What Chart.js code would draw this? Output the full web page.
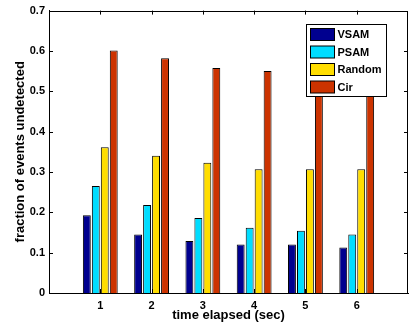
<!DOCTYPE html>
<html>
<head>
<meta charset="utf-8">
<script src="https://cdn.jsdelivr.net/npm/chart.js@4.4.0/dist/chart.umd.min.js"></script>
<style>
html,body{margin:0;padding:0;background:#fff;}
#wrap{width:417px;height:327px;position:relative;}
</style>
</head>
<body>
<div id="wrap"><canvas id="c" width="417" height="327"></canvas></div>
<script>
const categories = ['1', '2', '3', '4', '5', '6'];
const seriesNames = ['VSAM', 'PSAM', 'Random', 'Cir'];
const vsam   = [0.193, 0.145, 0.129, 0.120, 0.120, 0.113];
const psam   = [0.265, 0.218, 0.186, 0.162, 0.154, 0.145];
const random = [0.361, 0.340, 0.323, 0.307, 0.307, 0.307];
const cir    = [0.601, 0.582, 0.558, 0.550, 0.545, 0.540];
const yTicks = [0, 0.1, 0.2, 0.3, 0.4, 0.5, 0.6, 0.7];
const colors = ['#00008F', '#00DDFF', '#FFDD00', '#CC3300'];

const FONT = '"Liberation Sans", Arial, Helvetica, sans-serif';
const labels = [''].concat(categories, ['']);
const pad = arr => [null].concat(arr, [null]);
const allSeries = [vsam, psam, random, cir];

const frameTicks = {
  id: 'frameTicks',
  afterDraw(chart) {
    const ctx = chart.ctx, a = chart.chartArea;
    const xs = chart.scales.x, ys = chart.scales.y;
    ctx.save();
    ctx.strokeStyle = '#000';
    ctx.lineWidth = 1;
    ctx.strokeRect(Math.round(a.left) + 0.5, Math.round(a.top) + 0.5, Math.round(a.right - a.left) - 1, Math.round(a.bottom - a.top));
    ctx.beginPath();
    yTicks.forEach(v => {
      const y = Math.round(ys.getPixelForValue(v)) + 0.5;
      ctx.moveTo(a.left, y); ctx.lineTo(a.left + 4, y);
      ctx.moveTo(a.right, y); ctx.lineTo(a.right - 4, y);
    });
    categories.forEach((c, i) => {
      const x = Math.round(xs.getPixelForValue(i + 1)) + 0.5;
      ctx.moveTo(x, a.top); ctx.lineTo(x, a.top + 4);
      ctx.moveTo(x, a.bottom); ctx.lineTo(x, a.bottom - 4);
    });
    ctx.stroke();

    // legend box
    const bx = Math.round(a.right - 102) + 0.5, by = Math.round(a.top + 13) + 0.5, bw = 80, bh = 72;
    ctx.fillStyle = '#fff';
    ctx.fillRect(bx, by, bw, bh);
    ctx.strokeRect(bx, by, bw, bh);
    ctx.font = 'bold 11px ' + FONT;
    ctx.textBaseline = 'middle';
    ctx.textAlign = 'left';
    chart.data.datasets.forEach((ds, i) => {
      const sy = by + 4 + i * 17.5;
      ctx.fillStyle = ds.backgroundColor;
      ctx.fillRect(bx + 4, sy, 24, 12);
      ctx.strokeRect(bx + 4, sy, 24, 12);
      ctx.fillStyle = '#000';
      ctx.fillText(ds.label, bx + 31, sy + 6.5);
    });
    ctx.restore();
  }
};

new Chart(document.getElementById('c'), {
  type: 'bar',
  data: {
    labels: labels,
    datasets: seriesNames.map((n, i) => ({
      label: n,
      data: pad(allSeries[i]),
      backgroundColor: colors[i],
      borderColor: '#000',
      borderWidth: 1,
      categoryPercentage: 0.70,
      barPercentage: 0.88
    }))
  },
  options: {
    responsive: false,
    animation: false,
    layout: { padding: { left: 0, top: 10, right: 9, bottom: 0 } },
    plugins: { legend: { display: false }, tooltip: { enabled: false } },
    scales: {
      x: {
        offset: false,
        grid: { display: false, drawTicks: false },
        border: { display: true, color: '#000' },
        ticks: { color: '#000', font: { family: FONT, size: 11, weight: 'bold' }, padding: 6, maxRotation: 0, autoSkip: false },
        title: { display: true, text: 'time elapsed (sec)', color: '#000', font: { family: FONT, size: 13, weight: 'bold', lineHeight: 1.75 }, padding: 0 },
        afterFit(s) { s.height = 34; }
      },
      y: {
        min: 0, max: 0.7,
        grid: { display: false, drawTicks: false },
        border: { display: true, color: '#000' },
        afterBuildTicks(s) { s.ticks = yTicks.map(v => ({ value: v })); },
        ticks: { color: '#000', font: { family: FONT, size: 11, weight: 'bold' }, padding: 4,
          callback: v => v === 0 ? '0' : Number(v).toFixed(1) },
        title: { display: true, text: 'fraction of events undetected', color: '#000', font: { family: FONT, size: 13, weight: 'bold', lineHeight: 3.2 }, padding: 0 },
        afterFit(s) { s.width = 49; }
      }
    }
  },
  plugins: [frameTicks]
});
</script>
</body>
</html>
